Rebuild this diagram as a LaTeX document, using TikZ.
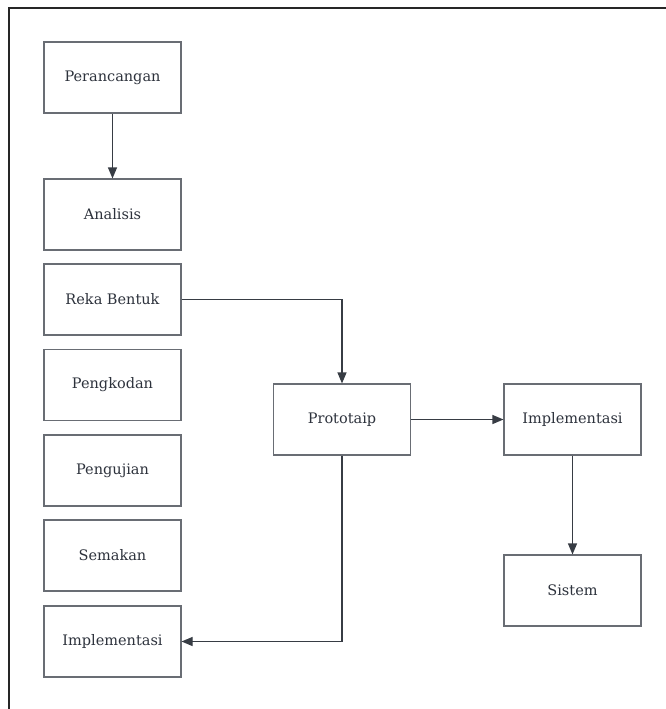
\documentclass[tikz,border=0pt]{standalone}
\usepackage{fontspec}
\setmainfont{DejaVu Serif}
\usetikzlibrary{arrows.meta, positioning, calc}
\definecolor{BoxLine}{RGB}{105, 109, 116}
\definecolor{FlowLine}{RGB}{55, 60, 68}
\definecolor{LabelText}{RGB}{45, 50, 60}

\begin{document}
\begin{tikzpicture}[
    x=1pt, y=-1pt,
    stage/.style={draw=BoxLine, line width=1.1pt, fill=white, minimum width=137pt, minimum height=71pt, inner sep=0pt, text=LabelText, font=\fontsize{14.5}{17}\selectfont},
    flow/.style={-{Triangle[length=11pt, width=9pt]}, FlowLine, line width=1.1pt},
    frame/.style={draw=black!85, line width=1.4pt}
]
\useasboundingbox (0,0) rectangle (666,709);

% Outer frame
\draw[frame] (9,709) -- (9,8) -- (666,8);

% Left column of stages
\node[stage] (perancangan) at (112.5,77.5) {Perancangan};
\node[stage] (analisis) at (112.5,214.5) {Analisis};
\node[stage] (rekabentuk) at (112.5,299.5) {Reka Bentuk};
\node[stage] (pengkodan) at (112.5,385) {Pengkodan};
\node[stage] (pengujian) at (112.5,470.5) {Pengujian};
\node[stage] (semakan) at (112.5,555.5) {Semakan};
\node[stage] (implkiri) at (112.5,641.5) {Implementasi};

% Middle and right stages
\node[stage] (prototaip) at (342,419.5) {Prototaip};
\node[stage] (implkanan) at (572.5,419.5) {Implementasi};
\node[stage] (sistem) at (572.5,590.5) {Sistem};

% Flows
\draw[flow] (perancangan) -- (analisis);
\draw[flow] (rekabentuk.east) -| (prototaip.north);
\draw[flow] (prototaip) -- (implkanan);
\draw[flow] (implkanan) -- (sistem);
\draw[flow] (prototaip.south) |- (implkiri.east);

\end{tikzpicture}
\end{document}
